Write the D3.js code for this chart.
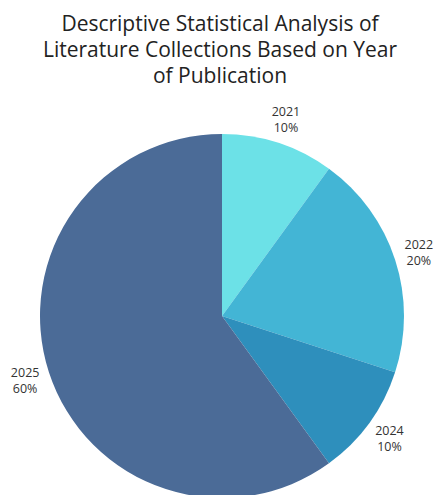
<!DOCTYPE html>
<html>
<head>
<meta charset="utf-8">
<script src="https://cdn.jsdelivr.net/npm/d3@7"></script>
<style>
  body { margin: 0; background: #fff; }
  svg { display: block; font-family: "Open Sans", sans-serif; }
</style>
</head>
<body>
<svg width="435" height="495"></svg>
<script>
// data
const years = ['2021', '2022', '2024', '2025'];
const shares = [10, 20, 10, 60];
const colors = ['#6ce1e7', '#43b5d5', '#2e8fbc', '#4b6b97'];
const titleLines = [
  'Descriptive Statistical Analysis of',
  'Literature Collections Based on Year',
  'of Publication'
];

const svg = d3.select('svg');

// title
svg.append('g')
  .selectAll('text')
  .data(titleLines)
  .join('text')
    .attr('x', 220)
    .attr('y', (d, i) => 31 + i * 26)
    .attr('text-anchor', 'middle')
    .attr('font-size', 21)
    .attr('fill', '#222')
    .text(d => d);

// pie
const cx = 222, cy = 316, radius = 182, labelR = 207;
const data = years.map((y, i) => ({year: y, share: shares[i]}));

const pie = d3.pie().sort(null).value(d => d.share);
const arc = d3.arc().innerRadius(0).outerRadius(radius);
const labelArc = d3.arc().innerRadius(labelR).outerRadius(labelR);

const color = d3.scaleOrdinal().domain(years).range(colors);

const g = svg.append('g')
  .attr('transform', `translate(${cx}, ${cy})`);

const arcs = pie(data);

g.selectAll('path')
  .data(arcs)
  .join('path')
    .attr('d', arc)
    .attr('fill', d => color(d.data.year));

// labels: year on top, percent below (two separate texts)
const lbl = g.selectAll('g.lbl')
  .data(arcs)
  .join('g')
    .attr('class', 'lbl')
    .attr('transform', d => `translate(${labelArc.centroid(d)})`);

lbl.append('text')
  .attr('y', -3)
  .attr('text-anchor', 'middle')
  .attr('font-size', 12.5)
  .attr('fill', '#333')
  .text(d => d.data.year);

lbl.append('text')
  .attr('y', 13)
  .attr('text-anchor', 'middle')
  .attr('font-size', 12.5)
  .attr('fill', '#333')
  .text(d => d.data.share + '%');
</script>
</body>
</html>
